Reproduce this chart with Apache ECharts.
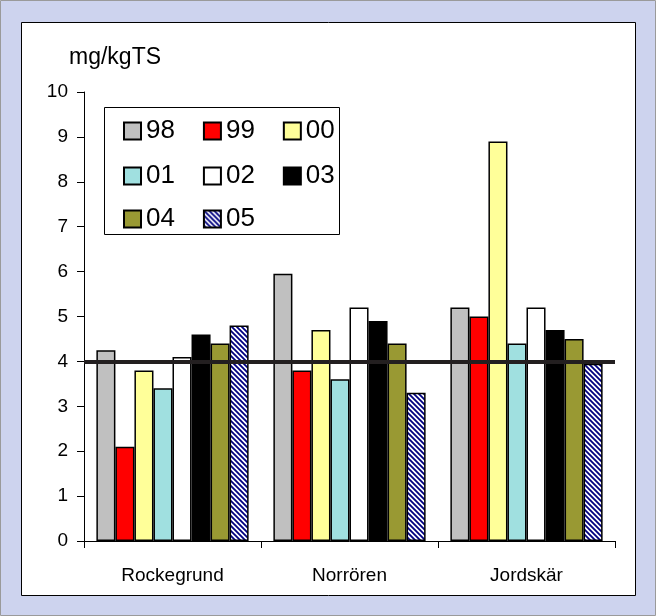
<!DOCTYPE html>
<html>
<head>
<meta charset="utf-8">
<script src="https://cdn.jsdelivr.net/npm/echarts@6/dist/echarts.min.js"></script>
<style>
html, body { margin: 0; padding: 0; background: #fff; }
#main { width: 656px; height: 616px; }
</style>
</head>
<body>
<div id="main"></div>
<script>
var categories = ['Rockegrund', 'Norrören', 'Jordskär'];
var years = ['98', '99', '00', '01', '02', '03', '04', '05'];
var v98 = [4.25, 5.95, 5.2];
var v99 = [2.1, 3.8, 5.0];
var v00 = [3.8, 4.7, 8.9];
var v01 = [3.4, 3.6, 4.4];
var v02 = [4.1, 5.2, 5.2];
var v03 = [4.6, 4.9, 4.7];
var v04 = [4.4, 4.4, 4.5];
var v05 = [4.8, 3.3, 3.95];
var limitValue = 4;
var yTicks = [0, 1, 2, 3, 4, 5, 6, 7, 8, 9, 10];

// diagonal stripes for 05
function stripes() {
	var c = document.createElement('canvas');
	c.width = 5;
	c.height = 5;
	var ctx = c.getContext('2d');
	ctx.fillStyle = '#ffffff';
	ctx.fillRect(0, 0, 5, 5);
	ctx.strokeStyle = '#000080';
	ctx.lineWidth = 1.8;
	ctx.beginPath();
	ctx.moveTo(-1, -1); ctx.lineTo(6, 6);
	ctx.moveTo(-6, -1); ctx.lineTo(1, 6);
	ctx.moveTo(4, -1); ctx.lineTo(11, 6);
	ctx.stroke();
	return c;
}

var colors = ['#c0c0c0', '#ff0000', '#ffff99', '#a0e0e0', '#ffffff', '#000000', '#999933',
	{ image: stripes(), repeat: 'repeat' }];
var values = [v98, v99, v00, v01, v02, v03, v04, v05];

var myChart = echarts.init(document.getElementById('main'));

var series = [];
for (var i = 0; i < years.length; i++) {
	var s = {
		name : years[i],
		type : 'bar',
		data : values[i],
		barGap : '0%',
		barCategoryGap : '14%',
		itemStyle : {
			color : colors[i],
			borderColor : '#000',
			borderWidth : 1.5
		}
	};
	if (i == 0) {
		s.markLine = {
			silent : true,
			symbol : 'none',
			label : { show : false },
			z : 10,
			lineStyle : { color : '#231f20', width : 4, type : 'solid' },
			data : [ { yAxis : limitValue } ]
		};
	}
	series.push(s);
}

function legendRow(names, top) {
	return {
		left : 118,
		top : top,
		orient : 'horizontal',
		icon : 'rect',
		itemWidth : 17,
		itemHeight : 17,
		itemGap : 28,
		selectedMode : false,
		z : 30,
		data : names,
		textStyle : {
			fontFamily : 'Liberation Sans, Arial',
			fontSize : 26,
			color : '#000'
		}
	};
}

var option = {
	animation : false,
	textStyle : { fontFamily : 'Liberation Sans, Arial' },
	graphic : [
		{ type : 'rect', shape : { x : 0.5, y : 0.5, width : 655, height : 615 },
			style : { fill : '#cdd3ee', stroke : '#9a9a9a', lineWidth : 1 }, z : -10 },
		{ type : 'rect', shape : { x : 21.5, y : 22.5, width : 614, height : 573 },
			style : { fill : '#ffffff', stroke : '#000', lineWidth : 1 }, z : -9 },
		{ type : 'rect', shape : { x : 104.5, y : 107.5, width : 235, height : 127 },
			style : { fill : '#ffffff', stroke : '#000', lineWidth : 1 }, z : 1 },
		{ type : 'text', left : 69, top : 46,
			style : { text : 'mg/kgTS', fontSize : 23, fill : '#000', fontFamily : 'Liberation Sans, Arial' } }
	],
	legend : [
		legendRow(['98', '99', '00'], 113),
		legendRow(['01', '02', '03'], 158),
		legendRow(['04', '05'], 201)
	],
	grid : {
		left : 84,
		right : 41,
		top : 92,
		bottom : 75
	},
	xAxis : {
		type : 'category',
		data : categories,
		axisLine : { lineStyle : { color : '#000', width : 1 } },
		axisTick : { show : true, length : 7, lineStyle : { color : '#000' } },
		axisLabel : { fontSize : 19, color : '#000', margin : 25 }
	},
	yAxis : {
		type : 'value',
		min : yTicks[0],
		max : yTicks[yTicks.length - 1],
		interval : 1,
		splitLine : { show : false },
		axisLine : { show : true, lineStyle : { color : '#000', width : 1 } },
		axisTick : { show : true, length : 7, lineStyle : { color : '#000' } },
		axisLabel : { fontSize : 19, color : '#000', margin : 16 }
	},
	series : series
};
myChart.setOption(option);
</script>
</body>
</html>
